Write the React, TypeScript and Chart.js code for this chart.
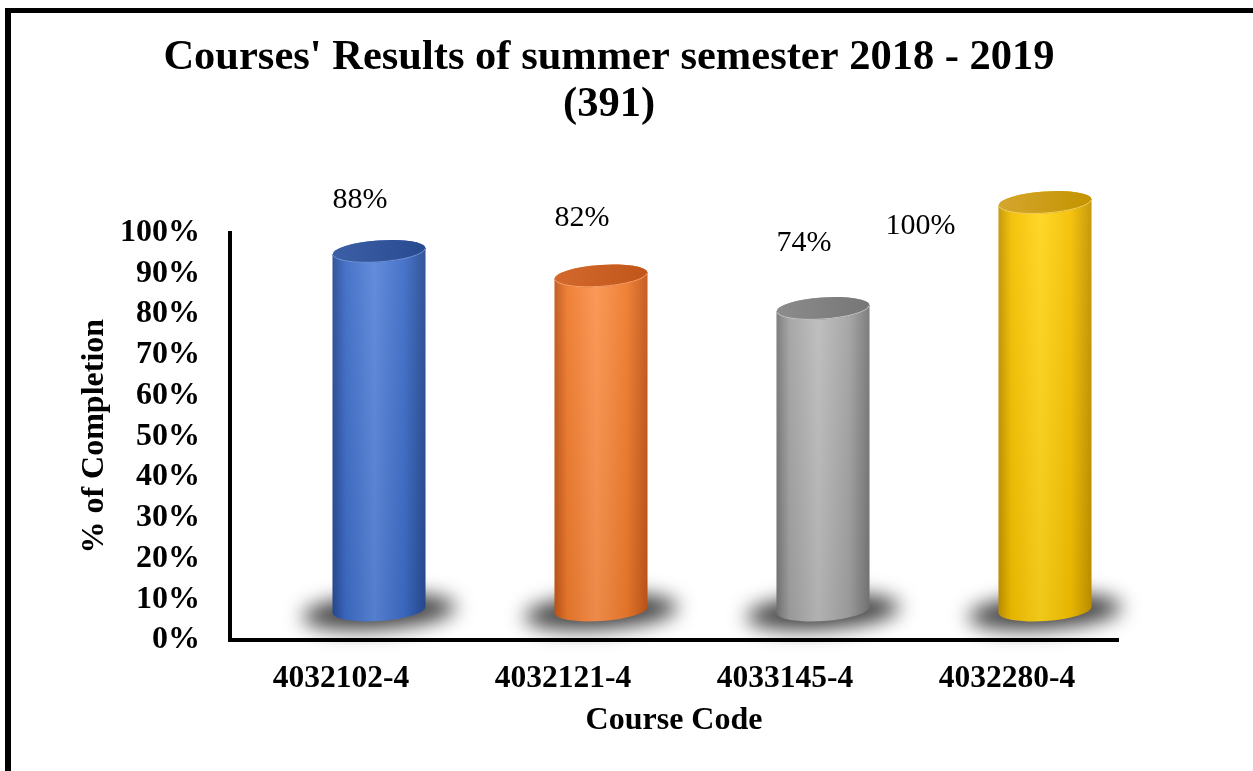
import React, { useEffect, useRef } from 'react';
import { Chart, registerables } from 'chart.js';

Chart.register(...registerables);

const titleLines = ["Courses' Results of summer semester 2018 - 2019", '(391)'];
const categories = ['4032102-4', '4032121-4', '4033145-4', '4032280-4'];
const completion = [88, 82, 74, 100];
const yTickValues = [0, 10, 20, 30, 40, 50, 60, 70, 80, 90, 100];
const xAxisTitle = 'Course Code';
const yAxisTitle = '% of Completion';

const palettes = [
  { dark: '#284a90', mid: '#3c6bc6', light: '#5a86d9', top: '#3d5fa6', rim: '#6f93d8' },
  { dark: '#c0561a', mid: '#ee7a2c', light: '#fb934f', top: '#d4692d', rim: '#f7a06a' },
  { dark: '#767676', mid: '#a2a2a2', light: '#bcbcbc', top: '#8c8c8c', rim: '#c4c4c4' },
  { dark: '#c39300', mid: '#f4bf00', light: '#ffd51c', top: '#d5a62e', rim: '#f3cf5a' },
];

const FONT = "'Liberation Serif', 'Times New Roman', serif";
const DEPTH_X = 38;
const DEPTH_Y = -30;
const ELL_RY = 11;
const ELL_ROT = -0.07;

const framePlugin = {
  id: 'frame',
  afterDraw(chart: any) {
    const ctx = chart.ctx;
    ctx.save();
    ctx.fillStyle = '#000';
    ctx.fillRect(5, 8, chart.width - 5, 5);
    ctx.fillRect(5, 8, 6, chart.height - 8);
    ctx.restore();
  },
};

const cylinderPlugin = {
  id: 'cylinders',
  beforeDatasetsDraw(chart: any) {
    const ctx = chart.ctx;
    const meta = chart.getDatasetMeta(0);
    const els = meta.data.map((el: any) => el.getProps(['x', 'y', 'base', 'width'], true));

    // shadows
    els.forEach((p: any) => {
      const cx = p.x + DEPTH_X;
      const bot = p.base + DEPTH_Y;
      const rx = p.width / 2;
      ctx.save();
      ctx.filter = 'blur(10px)';
      ctx.fillStyle = 'rgba(0,0,0,0.75)';
      ctx.beginPath();
      ctx.ellipse(cx, bot + 2, rx + 30, 17, ELL_ROT, 0, Math.PI * 2);
      ctx.fill();
      ctx.restore();
    });

    els.forEach((p: any, i: number) => {
      const pal = palettes[i % palettes.length];
      const cx = p.x + DEPTH_X;
      const top = p.y + DEPTH_Y;
      const bot = p.base + DEPTH_Y;
      const rx = p.width / 2;
      ctx.save();
      const g = ctx.createLinearGradient(cx - rx, 0, cx + rx, 0);
      g.addColorStop(0, pal.dark);
      g.addColorStop(0.14, pal.mid);
      g.addColorStop(0.45, pal.light);
      g.addColorStop(0.78, pal.mid);
      g.addColorStop(1, pal.dark);
      ctx.fillStyle = g;
      ctx.beginPath();
      ctx.ellipse(cx, top, rx, ELL_RY, ELL_ROT, Math.PI, 0, false);
      ctx.ellipse(cx, bot, rx, ELL_RY, ELL_ROT, 0, Math.PI, false);
      ctx.closePath();
      ctx.fill();
      const v = ctx.createLinearGradient(0, top, 0, bot + ELL_RY);
      v.addColorStop(0, 'rgba(255,255,255,0.06)');
      v.addColorStop(1, 'rgba(0,0,0,0.06)');
      ctx.fillStyle = v;
      ctx.fill();
      const tg = ctx.createLinearGradient(cx - rx, 0, cx + rx, 0);
      tg.addColorStop(0, pal.top);
      tg.addColorStop(1, pal.dark);
      ctx.fillStyle = tg;
      ctx.beginPath();
      ctx.ellipse(cx, top, rx, ELL_RY, ELL_ROT, 0, Math.PI * 2);
      ctx.fill();
      ctx.strokeStyle = pal.rim;
      ctx.lineWidth = 1;
      ctx.beginPath();
      ctx.ellipse(cx, top, rx - 0.5, ELL_RY - 0.5, ELL_ROT, 0.05, Math.PI - 0.05, false);
      ctx.stroke();
      ctx.restore();
    });

    // data labels
    ctx.save();
    ctx.font = `30px ${FONT}`;
    ctx.fillStyle = '#000';
    ctx.textBaseline = 'middle';
    els.forEach((p: any, i: number) => {
      const text = completion[i] + '%';
      let lx = p.x + 19;
      let ly = 0.75 * p.y + 0.25 * p.base - 171;
      ctx.textAlign = 'center';
      if (ly < 185) {
        const w = ctx.measureText(text).width;
        lx = p.x + DEPTH_X - p.width / 2 - 43 - w / 2;
        ly = p.y - 6;
      }
      ctx.fillText(text, lx, ly);
    });
    ctx.restore();
    return false;
  },
};

export default function App() {
  const ref = useRef<HTMLCanvasElement | null>(null);
  useEffect(() => {
    if (!ref.current) return;
    const chart = new Chart(ref.current, {
      type: 'bar',
      data: {
        labels: categories,
        datasets: [
          {
            label: '% of Completion',
            data: completion,
            backgroundColor: palettes.map((p) => p.mid),
            categoryPercentage: 1,
            barPercentage: 0.42,
          },
        ],
      },
      options: {
        responsive: false,
        animation: false,
        devicePixelRatio: 1,
        layout: { padding: { left: 100, right: 135, top: 0, bottom: 0 } },
        plugins: {
          legend: { display: false },
          tooltip: { enabled: false },
          title: {
            display: true,
            text: titleLines,
            color: '#000',
            font: { family: FONT, size: 42.5, weight: 'bold', lineHeight: 1.1 },
            padding: { top: 35, bottom: 104 },
          },
        },
        scales: {
          x: {
            grid: { display: false, drawTicks: false },
            border: { display: true, color: '#000', width: 4 },
            ticks: { color: '#000', font: { family: FONT, size: 31.5, weight: 'bold' }, padding: 20 },
            title: {
              display: true,
              text: xAxisTitle,
              color: '#000',
              font: { family: FONT, size: 32, weight: 'bold' },
              padding: { top: 0, bottom: 31 },
            },
            afterFit: (s: any) => {
              s.height = 131;
            },
          },
          y: {
            min: 0,
            max: 100,
            grid: { display: false, drawTicks: false },
            border: { display: true, color: '#000', width: 4 },
            afterBuildTicks: (s: any) => {
              s.ticks = yTickValues.map((v) => ({ value: v }));
            },
            ticks: {
              autoSkip: false,
              color: '#000',
              font: { family: FONT, size: 32, weight: 'bold' },
              padding: 30,
              callback: (v: any) => v + '%',
            },
            title: {
              display: true,
              text: yAxisTitle,
              color: '#000',
              font: { family: FONT, size: 32, weight: 'bold' },
              padding: { top: -24, bottom: 0 },
            },
            afterFit: (s: any) => {
              s.width = 130;
            },
          },
        },
      },
      plugins: [cylinderPlugin, framePlugin],
    });
    return () => chart.destroy();
  }, []);
  return (
    <div style={{ position: 'absolute', left: 0, top: 0, width: 1253, height: 771, background: '#fff' }}>
      <canvas ref={ref} width={1253} height={771} />
    </div>
  );
}
